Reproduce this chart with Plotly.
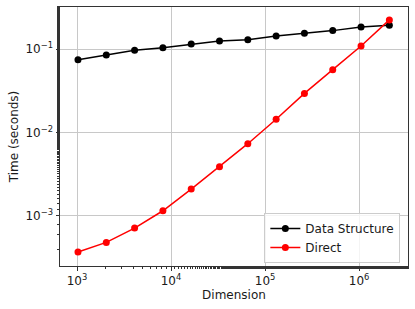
import plotly.graph_objects as go

dimension = [1024, 2048, 4096, 8192, 16384, 32768, 65536, 131072, 262144, 524288, 1048576, 2097152]
data_structure = [0.0744, 0.0847, 0.0965, 0.1038, 0.1148, 0.1247, 0.129, 0.143, 0.154, 0.166, 0.183, 0.192]
direct = [3.71e-4, 4.83e-4, 7.17e-4, 1.155e-3, 2.1e-3, 3.89e-3, 7.34e-3, 0.0144, 0.0294, 0.0565, 0.1087, 0.223]

x_tickvals = [1e3, 1e4, 1e5, 1e6]
x_ticktext = ["10<sup>3</sup>", "10<sup>4</sup>", "10<sup>5</sup>", "10<sup>6</sup>"]
y_tickvals = [1e-3, 1e-2, 1e-1]
y_ticktext = ["10<sup>−3</sup>", "10<sup>−2</sup>", "10<sup>−1</sup>"]

fig = go.Figure()
fig.add_trace(go.Scatter(x=dimension, y=data_structure, mode="lines+markers", name="Data Structure",
                         line=dict(color="black", width=1.5), marker=dict(color="black", size=7)))
fig.add_trace(go.Scatter(x=dimension, y=direct, mode="lines+markers", name="Direct",
                         line=dict(color="red", width=1.5), marker=dict(color="red", size=7)))

font = dict(family="DejaVu Sans", size=12, color="#1a1a1a")
axis_common = dict(type="log", showline=True, linecolor="#333333", linewidth=1, mirror=True,
                   showgrid=True, gridcolor="#c8c8c8", gridwidth=1, zeroline=False,
                   ticks="outside", ticklen=3.5, tickcolor="#333333", tickfont=font,
                   minor=dict(ticks="outside", ticklen=2, tickcolor="#333333", showgrid=False))

fig.update_layout(
    width=415, height=309,
    margin=dict(l=60, r=7, t=7, b=43),
    paper_bgcolor="white", plot_bgcolor="white",
    font=font,
    xaxis=dict(axis_common, range=[2.819, 6.52], tickvals=x_tickvals, ticktext=x_ticktext,
               title=dict(text="Dimension", font=font, standoff=3)),
    yaxis=dict(axis_common, range=[-3.599, -0.497], tickvals=y_tickvals, ticktext=y_ticktext,
               title=dict(text="Time (seconds)", font=font, standoff=4)),
    legend=dict(x=0.978, y=0.012, xanchor="right", yanchor="bottom",
                bgcolor="rgba(255,255,255,0.8)", bordercolor="#cccccc", borderwidth=1,
                font=font, tracegroupgap=0),
    showlegend=True,
)

fig.write_html("out.html", config={"displayModeBar": False},
               post_script="document.body.style.margin='0';document.body.style.padding='0';document.body.style.overflow='hidden';")
